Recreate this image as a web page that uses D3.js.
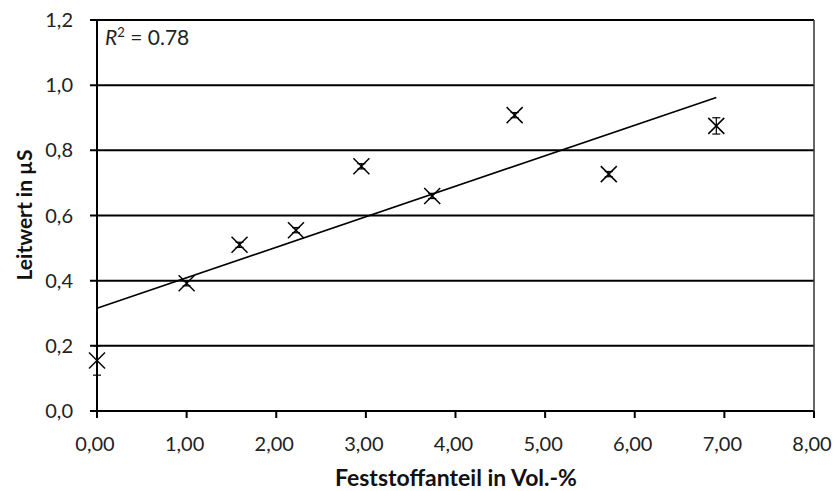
<!DOCTYPE html>
<html>
<head>
<meta charset="utf-8">
<script src="https://cdn.jsdelivr.net/npm/d3@7"></script>
<style>
  html, body { margin: 0; padding: 0; background: #fff; }
  svg { display: block; font-family: Lato, "Open Sans", sans-serif; }
</style>
</head>
<body>
<svg id="chart" width="834" height="491"></svg>
<script>
// Feststoffanteil (Vol.-%) and measured conductance (µS) with error ranges
const feststoff = [0.00, 1.00, 1.59, 2.22, 2.95, 3.74, 4.66, 5.71, 6.91];
const leitwert  = [0.155, 0.392, 0.51, 0.555, 0.751, 0.66, 0.908, 0.727, 0.875];
const fehler    = [0.045, 0.008, 0.008, 0.008, 0.008, 0.008, 0.008, 0.008, 0.025];
const xTicks = [0, 1, 2, 3, 4, 5, 6, 7, 8];
const yTicks = [0, 0.2, 0.4, 0.6, 0.8, 1.0, 1.2];

const svg = d3.select("#chart");
const margin = { left: 97, top: 20 };

const x = d3.scaleLinear().domain([0, 8]).range([margin.left, 814]);
const y = d3.scaleLinear().domain([0, 1.2]).range([411, margin.top]);

const fmtX = v => d3.format(".2f")(v).replace(".", ",");
const fmtY = v => d3.format(".1f")(v).replace(".", ",");

// horizontal gridlines with outward ticks on the left
svg.append("g")
  .selectAll("line")
  .data(yTicks)
  .join("line")
  .attr("x1", margin.left - 7).attr("x2", x(8))
  .attr("y1", d => y(d)).attr("y2", d => y(d))
  .attr("stroke", "#000").attr("stroke-width", 2);

// y axis line and right border
svg.append("line")
  .attr("x1", margin.left).attr("x2", margin.left)
  .attr("y1", y(1.2)).attr("y2", y(0))
  .attr("stroke", "#000").attr("stroke-width", 2);

svg.append("line")
  .attr("x1", x(8)).attr("x2", x(8))
  .attr("y1", y(1.2)).attr("y2", y(0))
  .attr("stroke", "#333").attr("stroke-width", 1.5);

svg.append("g")
  .selectAll("text")
  .data(yTicks)
  .join("text")
  .attr("x", 73).attr("y", d => y(d))
  .attr("dy", "0.35em")
  .attr("text-anchor", "end")
  .attr("font-size", 20)
  .attr("fill", "#222")
  .text(fmtY);

// x axis ticks and labels
svg.append("g")
  .selectAll("line")
  .data(xTicks)
  .join("line")
  .attr("x1", d => x(d)).attr("x2", d => x(d))
  .attr("y1", y(0)).attr("y2", y(0) + 7)
  .attr("stroke", "#000").attr("stroke-width", 2);

svg.append("g")
  .selectAll("text")
  .data(xTicks)
  .join("text")
  .attr("x", d => x(d) - 2).attr("y", 451)
  .attr("text-anchor", "middle")
  .attr("font-size", 20)
  .attr("fill", "#222")
  .text(fmtX);

// axis titles
svg.append("text")
  .attr("x", 456).attr("y", 486)
  .attr("text-anchor", "middle")
  .attr("font-size", 23).attr("font-weight", "bold")
  .attr("fill", "#111")
  .text("Feststoffanteil in Vol.-%");

svg.append("text")
  .attr("transform", "translate(32,215) rotate(-90)")
  .attr("text-anchor", "middle")
  .attr("font-size", 21).attr("font-weight", "bold")
  .attr("fill", "#111")
  .text("Leitwert in µS");

// least-squares trend line over the measured range
const mx = d3.mean(feststoff), my = d3.mean(leitwert);
let sxy = 0, sxx = 0, syy = 0;
feststoff.forEach((xi, i) => {
  sxy += (xi - mx) * (leitwert[i] - my);
  sxx += (xi - mx) ** 2;
  syy += (leitwert[i] - my) ** 2;
});
const slope = sxy / sxx, intercept = my - slope * mx;
const r2 = (sxy * sxy) / (sxx * syy);
const xMax = d3.max(feststoff);

svg.append("line")
  .attr("x1", x(0)).attr("y1", y(intercept))
  .attr("x2", x(xMax)).attr("y2", y(intercept + slope * xMax))
  .attr("stroke", "#000").attr("stroke-width", 1.6);

// data points: error bars and X markers
const pts = feststoff.map((v, i) => ({ x: v, y: leitwert[i], e: fehler[i] }));
const g = svg.append("g").attr("stroke", "#000").attr("fill", "none");

pts.forEach(p => {
  const cx = x(p.x), cy = y(p.y);
  const top = y(p.y + p.e), bot = y(p.y - p.e);
  g.append("line").attr("x1", cx).attr("x2", cx).attr("y1", top).attr("y2", bot).attr("stroke-width", 1.2);
  g.append("line").attr("x1", cx - 4).attr("x2", cx + 4).attr("y1", top).attr("y2", top).attr("stroke-width", 1.2);
  g.append("line").attr("x1", cx - 4).attr("x2", cx + 4).attr("y1", bot).attr("y2", bot).attr("stroke-width", 1.2);
  const s = 8;
  g.append("line").attr("x1", cx - s).attr("x2", cx + s).attr("y1", cy - s).attr("y2", cy + s).attr("stroke-width", 1.5);
  g.append("line").attr("x1", cx - s).attr("x2", cx + s).attr("y1", cy + s).attr("y2", cy - s).attr("stroke-width", 1.5);
});

// coefficient of determination
const r2Text = svg.append("text")
  .attr("x", 105).attr("y", 45)
  .attr("font-size", 21)
  .attr("fill", "#222");
r2Text.append("tspan").attr("font-style", "italic").text("R");
r2Text.append("tspan").attr("font-size", 13).attr("dy", -8).text("2");
r2Text.append("tspan").attr("dy", 8).text(" = " + r2.toFixed(2));
</script>
</body>
</html>
